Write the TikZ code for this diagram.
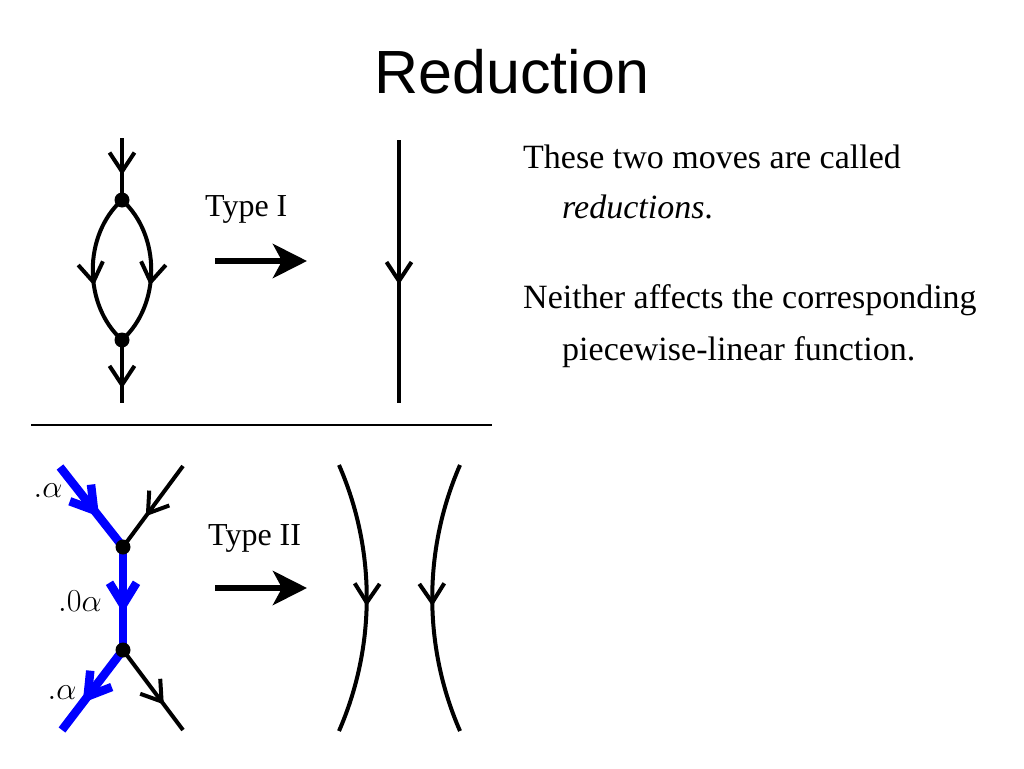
\RequirePackage{fix-cm}
\documentclass[tikz,border=0pt]{standalone}
\usepackage[no-math]{fontspec}
\setmainfont{Liberation Serif}
\newfontfamily\headfont{Liberation Sans}
\usepackage{xcolor}
\usepackage{tikz}
\usetikzlibrary{arrows.meta,decorations.markings}
\definecolor{edgeblue}{HTML}{0000FF}
\tikzset{
  edge/.style={color=black, line width=4pt},
  bluedge/.style={color=edgeblue, line width=8.5pt},
  vtx/.style={circle, fill=black, inner sep=0pt, minimum size=15pt},
  midarrow/.style={postaction={decorate}, decoration={markings,
    mark=at position #1 with {\arrow{Straight Barb[length=19pt,width=25pt]}}}},
  bluemid/.style={postaction={decorate}, decoration={markings,
    mark=at position #1 with {\arrow{Straight Barb[length=22pt,width=27pt]}}}},
  movearr/.style={-{Stealth[length=34pt,width=34pt,inset=9pt]}, line width=6pt},
  movelabel/.style={font=\fontsize{32}{38}\selectfont, anchor=base west, inner sep=0pt},
  bodytext/.style={font=\fontsize{34}{40}\selectfont, anchor=base west, inner sep=0pt},
  wtlabel/.style={font=\fontsize{32}{38}\selectfont, inner sep=0pt}
}

\begin{document}
\begin{tikzpicture}[x=1pt, y=-1pt]
  \useasboundingbox (0,0) rectangle (1024,768);

  \node[font=\headfont\fontsize{61}{70}\selectfont, anchor=base, inner sep=0pt] (title) at (512,93) {Reduction};

  \coordinate (a0) at (122,138);
  \coordinate (a1) at (122,200);
  \coordinate (a2) at (122,340);
  \coordinate (a3) at (122,403);
  \draw[edge, midarrow=0.6] (a0) -- (a1);
  \draw[edge, midarrow=0.6] (a1) .. controls (83,235) and (83,305) .. (a2);
  \draw[edge, midarrow=0.6] (a1) .. controls (161,235) and (161,305) .. (a2);
  \draw[edge, midarrow=0.77] (a2) -- (a3);
  \node[vtx] (v1) at (a1) {};
  \node[vtx] (v2) at (a2) {};

  \node[movelabel] (t1) at (205,216) {Type I};
  \coordinate (m1s) at (215,261);
  \coordinate (m1e) at (307,261);
  \draw[movearr] (m1s) -- (m1e);

  \coordinate (b0) at (399,140);
  \coordinate (b1) at (399,403);
  \draw[edge, midarrow=0.55] (b0) -- (b1);

  \coordinate (hl) at (31,425);
  \coordinate (hr) at (492,425);
  \draw[line width=2pt] (hl) -- (hr);

  \coordinate (c0) at (60,467);
  \coordinate (c1) at (183,466);
  \coordinate (u1) at (123,547);
  \coordinate (u2) at (123,650);
  \coordinate (c2) at (62,730);
  \coordinate (c3) at (183,730);
  \draw[edge, midarrow=0.62] (c1) -- (u1);
  \draw[edge, midarrow=0.68] (u2) -- (c3);
  \draw[bluedge, bluemid=0.62] (c0) -- (u1);
  \draw[bluedge, bluemid=0.64] (u1) -- (u2);
  \draw[bluedge, bluemid=0.66] (u2) -- (c2);
  \node[vtx] (w1) at (u1) {};
  \node[vtx] (w2) at (u2) {};

  \node[wtlabel] (l1) at (48,491) {$.\alpha$};
  \node[wtlabel] (l2) at (80,601) {$.0\alpha$};
  \node[wtlabel] (l3) at (62,693) {$.\alpha$};

  \node[movelabel] (t2) at (208,545) {Type II};
  \coordinate (m2s) at (215,588);
  \coordinate (m2e) at (307,588);
  \draw[movearr] (m2s) -- (m2e);

  \coordinate (d0) at (339,465);
  \coordinate (d1) at (339,731);
  \coordinate (e0) at (460,465);
  \coordinate (e1) at (460,731);
  \draw[edge, midarrow=0.53] (d0) .. controls (376,550) and (376,646) .. (d1);
  \draw[edge, midarrow=0.53] (e0) .. controls (423,550) and (423,646) .. (e1);

  \node[bodytext] (p1) at (523,168) {These two moves are called};
  \node[bodytext] (p2) at (562,218) {\textit{reductions}.};
  \node[bodytext] (p3) at (523,308) {Neither affects the corresponding};
  \node[bodytext] (p4) at (562,360) {piecewise-linear function.};
\end{tikzpicture}
\end{document}
